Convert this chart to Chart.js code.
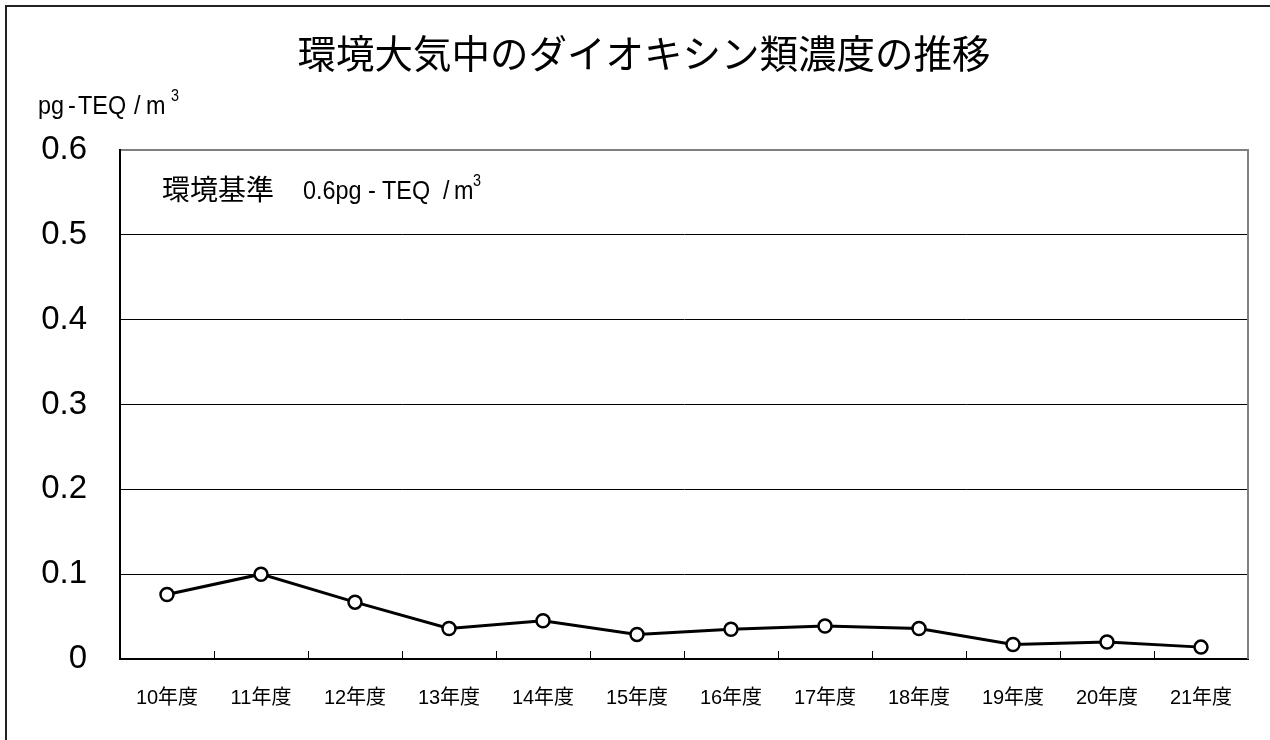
<!DOCTYPE html>
<html lang="ja">
<head>
  <meta charset="UTF-8">
  <title>環境大気中のダイオキシン類濃度の推移</title>
  <script src="https://cdn.jsdelivr.net/npm/chart.js"></script>
  <style>
    html, body { margin: 0; padding: 0; background: #fff; overflow: hidden; }
    canvas { display: block; }
  </style>
</head>
<body>
  <canvas id="grafico" width="1270" height="740"></canvas>

  <script>
    // data
    const years = ['10年度', '11年度', '12年度', '13年度', '14年度', '15年度',
                   '16年度', '17年度', '18年度', '19年度', '20年度', '21年度'];
    const dioxin = [0.076, 0.10, 0.067, 0.036, 0.045, 0.029,
                    0.035, 0.039, 0.036, 0.017, 0.020, 0.014];
    const yTickLabels = ['0', '0.1', '0.2', '0.3', '0.4', '0.5', '0.6'];

    const latin = "'Liberation Sans', Arial, 'Noto Sans CJK JP', sans-serif";
    const cjk = "'Noto Sans CJK JP', 'Liberation Sans', sans-serif";

    // draws text pieces slightly condensed, like the original narrow font
    function narrowText(c, parts, size, y, sx) {
      c.save();
      c.font = size + 'px ' + latin;
      c.scale(sx, 1);
      parts.forEach(p => c.fillText(p[0], p[1] / sx, y));
      c.restore();
    }

    // title, unit label, note, frames and the inward x ticks
    const decor = {
      id: 'decor',
      afterDraw(chart) {
        const c = chart.ctx;
        const a = chart.chartArea;
        const x = chart.scales.x;
        c.save();

        // outer frame (left and top only are visible)
        c.strokeStyle = '#222';
        c.lineWidth = 2;
        c.beginPath();
        c.moveTo(6, 740); c.lineTo(6, 6); c.lineTo(1270, 6);
        c.stroke();

        // right border of plot
        c.strokeStyle = '#808080';
        c.beginPath();
        c.moveTo(a.right, a.top - 1); c.lineTo(a.right, a.bottom);
        c.stroke();

        // inward ticks between categories
        c.strokeStyle = '#000';
        c.lineWidth = 1;
        const step = x.getPixelForValue(1) - x.getPixelForValue(0);
        c.beginPath();
        for (let i = 1; i < years.length; i++) {
          const px = Math.round(x.getPixelForValue(i) - step / 2) + 0.5;
          c.moveTo(px, a.bottom); c.lineTo(px, a.bottom - 8);
        }
        c.stroke();

        c.fillStyle = '#000';
        // title
        c.font = '38.5px ' + cjk;
        c.textAlign = 'center';
        c.textBaseline = 'middle';
        c.fillText('環境大気中のダイオキシン類濃度の推移', 644, 53);

        // unit label
        c.textAlign = 'left';
        c.textBaseline = 'alphabetic';
        narrowText(c, [['pg', 38], ['-', 68], ['TEQ', 78], ['/', 134], ['m', 146]], 26, 114, 0.9);
        narrowText(c, [['3', 171]], 16, 101, 0.9);

        // environmental standard note
        c.font = '28px ' + cjk;
        c.textBaseline = 'middle';
        c.fillText('環境基準', 162, 189);
        c.textBaseline = 'alphabetic';
        narrowText(c, [['0.6pg', 303], ['-', 368], ['TEQ', 382], ['/', 443], ['m', 454]], 26, 199, 0.9);
        narrowText(c, [['3', 473]], 16, 186, 0.9);

        c.restore();
      }
    };

    const ctx = document.getElementById('grafico').getContext('2d');
    const chart = new Chart(ctx, {
      type: 'line',
      data: {
        labels: years,
        datasets: [{
          label: 'ダイオキシン類濃度',
          data: dioxin,
          borderColor: '#000',
          borderWidth: 3,
          pointRadius: 6.5,
          pointBorderWidth: 2.5,
          pointBorderColor: '#000',
          pointBackgroundColor: '#fff',
          tension: 0
        }]
      },
      options: {
        responsive: false,
        animation: false,
        devicePixelRatio: 1,
        layout: { padding: { top: 150, right: 22, left: 0, bottom: 0 } },
        plugins: {
          legend: { display: false },
          title: { display: false },
          tooltip: { enabled: false }
        },
        scales: {
          x: {
            offset: true,
            grid: { display: false, drawTicks: false },
            border: { display: true, color: '#000', width: 2 },
            ticks: {
              color: '#000',
              padding: 27,
              maxRotation: 0,
              autoSkip: false,
              font: { family: latin, size: 20 }
            },
            afterFit(scale) { scale.height = 81; }
          },
          y: {
            min: 0,
            max: 0.6,
            grid: {
              drawTicks: false,
              color: c => c.index === 0 ? 'rgba(0,0,0,0)' : (c.index === 6 ? '#808080' : '#000'),
              lineWidth: c => c.index === 6 ? 2 : 1
            },
            border: { display: true, color: '#000', width: 2 },
            ticks: {
              stepSize: 0.1,
              color: '#000',
              padding: 33,
              font: { family: latin, size: 33 },
              callback: (v, i) => yTickLabels[i]
            },
            afterFit(scale) { scale.width = 120; }
          }
        }
      },
      plugins: [decor]
    });
  </script>
</body>
</html>
